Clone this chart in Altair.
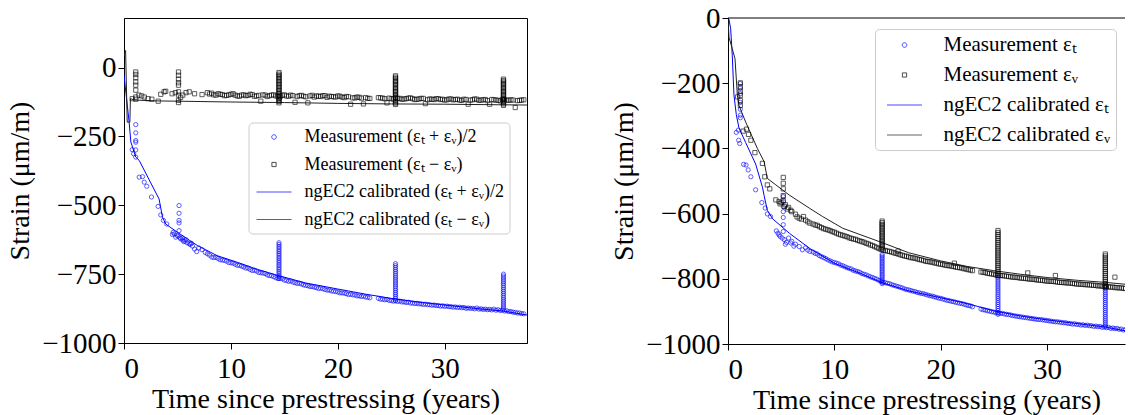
import altair as alt
import pandas as pd

# ---------------- shared dense time grids (years) ----------------
t_dense = [8.0, 8.4, 8.8, 9.2, 9.6, 10.0, 10.4, 10.8, 11.2, 11.6, 12.0, 12.4, 12.8, 13.2,
           13.6, 14.0, 14.4, 14.8, 15.2, 15.6, 16.0, 16.4, 16.8, 17.2, 17.6, 18.0, 18.4,
           18.8, 19.2, 19.6, 20.0, 20.4, 20.8, 21.2, 21.6, 22.0, 22.4, 22.8, 23.8, 24.2,
           24.6, 25.0, 25.4, 25.8, 26.2, 26.6, 27.0, 27.4, 27.8, 28.2, 28.6, 29.0, 29.4,
           29.8, 30.2, 30.6, 31.0, 31.4, 31.8, 32.2, 32.6, 33.0, 33.4, 33.8, 34.2, 34.6,
           35.0, 35.4, 35.8, 36.2, 36.6, 37.0, 37.4]
t_dense2 = [8.2, 8.6, 9.0, 9.4, 9.8, 10.2, 10.6, 11.0, 11.4, 11.8, 12.2, 12.6, 13.0, 13.4,
            13.8, 14.2, 14.6, 15.0, 15.4, 15.8, 16.2, 16.6, 17.0, 17.4, 17.8, 18.2, 18.6,
            19.0, 19.4, 19.8, 20.2, 20.6, 21.0, 21.4, 21.8, 22.2, 22.6, 23.0,
            24.0, 24.4, 24.8, 25.2, 25.6, 26.0, 26.4, 26.8, 27.2, 27.6, 28.0, 28.4, 28.8,
            29.2, 29.6, 30.0, 30.4, 30.8, 31.2, 31.6, 32.0, 32.4, 32.8, 33.2, 33.6, 34.0,
            34.4, 34.8, 35.2, 35.6, 36.0, 36.4, 36.8, 37.2]
spike_times = [14.5, 25.4, 35.5]

# ---------------- LEFT panel: (et+ev)/2 and (et-ev) ----------------
L_avg_dense = [-681, -690, -693, -699, -703, -709, -714, -718, -724, -728, -737, -739, -745, -748,
               -755, -759, -766, -767, -773, -775, -781, -783, -789, -792, -795, -799, -801,
               -806, -808, -812, -815, -818, -821, -823, -826, -829, -830, -834, -838, -841,
               -842, -846, -847, -848, -851, -852, -855, -856, -858, -859, -861, -862, -864,
               -865, -866, -868, -869, -870, -871, -873, -874, -873, -876, -877, -878, -877,
               -879, -881, -883, -886, -889, -891, -894]
L_avg_dense2 = [-688, -689, -698, -700, -708, -710, -718, -721, -728, -733, -736, -744, -746, -753,
                -756, -763, -765, -772, -776, -779, -784, -786, -791, -795, -797, -802, -803,
                -808, -811, -813, -818, -819, -824, -825, -829, -831, -833, -836,
                -841, -843, -845, -848, -849, -851, -853, -855, -857, -858, -860, -861, -863,
                -864, -866, -867, -868, -870, -871, -872, -874, -874, -876, -877, -878, -879,
                -880, -881, -882, -884, -886, -888, -891, -893]
L_avg_early_t = [0.77, 0.9, 1.1, 1.1, 1.1, 1.1, 1.1, 1.1, 1.42, 1.73, 1.89, 2.13, 2.57, 3.19,
                 3.44, 3.69, 4.0, 4.53, 4.6, 4.7, 4.84, 4.95, 5.05, 5.25, 5.3, 5.45, 5.5, 5.6,
                 5.7, 5.8, 5.9, 6.1, 6.2, 6.3, 6.4, 6.6, 6.8, 7.0, 7.3, 7.6, 7.8,
                 5.15, 5.15, 5.15, 5.15, 5.15]
L_avg_early_v = [-298, -313, -207, -237, -265, -271, -299, -325, -398, -396, -416, -431, -470, -504,
                 -535, -555, -568, -606, -598, -604, -616, -609, -612, -618, -622, -618, -626, -632,
                 -630, -625, -636, -640, -642, -638, -648, -659, -668, -655, -661, -671, -676,
                 -501, -529, -555, -564, -592]
L_avg_spikes = [
    [-636, -642, -649, -655, -662, -668, -675, -681, -688, -694, -701, -707, -714, -720, -727,
     -733, -740, -746, -753, -759, -766],
    [-712, -719, -726, -733, -740, -747, -754, -761, -768, -775, -782, -789, -796, -803, -810,
     -817, -824, -831, -838, -845],
    [-750, -757, -764, -771, -778, -785, -792, -799, -806, -813, -820, -827, -834, -841, -848,
     -855, -862, -869, -876],
]

L_dif_dense = [-96, -99, -95, -98, -101, -97, -100, -104, -99, -101, -98, -103, -122, -100,
               -102, -99, -104, -101, -103, -100, -126, -102, -104, -128, -101, -103, -105,
               -102, -104, -106, -103, -107, -105, -133, -110, -108, -132, -112, -109, -111,
               -128, -113, -110, -112, -114, -111, -113, -115, -112, -131, -114, -116, -113,
               -115, -117, -114, -116, -118, -115, -133, -117, -115, -118, -116, -133, -117,
               -119, -116, -118, -117, -145, -119, -117]
L_dif_dense2 = [-93, -100, -97, -102, -99, -95, -103, -100, -102, -97, -104, -101, -99, -105,
                -100, -103, -106, -99, -104, -102, -105, -101, -106, -103, -107, -104, -102,
                -108, -105, -107, -104, -109, -106, -110, -107, -111, -109, -112,
                -110, -113, -111, -114, -112, -115, -113, -110, -116, -114, -112, -117, -115,
                -113, -116, -118, -114, -117, -115, -119, -116, -118, -114, -119, -117, -120,
                -116, -118, -121, -117, -119, -118, -120, -118]
L_dif_early_t = [0.77, 1.1, 1.1, 1.1, 1.1, 1.1, 1.1, 1.1, 1.1, 1.4, 1.65, 1.9, 2.25, 2.6, 3.2,
                 3.44, 3.75, 3.9, 4.5, 4.8, 5.3, 5.5, 5.8, 6.1, 6.6, 7.3, 7.8,
                 5.1, 5.1, 5.1, 5.1, 5.1, 5.1, 5.1, 5.1, 5.1]
L_dif_early_v = [-113, -16, -25, -37, -52, -64, -82, -107, -115, -100, -103, -107, -113, -115, -122,
                 -97, -88, -86, -95, -91, -108, -100, -91, -88, -95, -98, -91,
                 -16, -28, -42, -55, -64, -88, -100, -119, -127]
L_dif_spikes = [
    [-18, -24, -29, -35, -40, -46, -51, -57, -62, -68, -73, -79, -84, -90, -95, -101, -106,
     -112, -117, -123, -128],
    [-30, -35, -40, -46, -51, -56, -61, -66, -72, -77, -82, -87, -92, -98, -103, -108, -113,
     -118, -124, -129, -134],
    [-42, -47, -52, -57, -62, -67, -72, -77, -82, -87, -92, -97, -102, -107, -112, -117, -122,
     -127, -132, -137],
]

L_avg_model_t = [0.0, 0.48, 0.64, 1.1, 1.42, 3.28, 3.6, 3.9, 5.0, 6.86, 8.72, 10.6, 12.5, 14.7,
                 17.0, 20.0, 22.5, 25.0, 27.5, 30.0, 33.0, 35.5, 37.8]
L_avg_model_v = [-28, -198, -270, -325, -337, -477, -543, -568, -598, -646, -683, -707, -733, -758,
                 -782, -804, -822, -838, -851, -862, -875, -884, -899]
L_dif_model_t = [0.0, 0.15, 0.3, 0.55, 0.6, 1.0, 3.0, 5.0, 10.0, 15.0, 20.0, 25.0, 30.0, 35.0, 37.8]
L_dif_model_v = [40, 62, -198, -198, -113, -118, -121, -122, -125, -127, -130, -132, -133, -135, -136]

# ---------------- RIGHT panel: et and ev ----------------
R_t_dense = [-718, -724, -732, -738, -745, -750, -754, -760, -766, -770, -776, -780, -786, -791,
             -796, -801, -808, -812, -815, -820, -824, -828, -833, -836, -839, -843, -846,
             -850, -853, -857, -860, -864, -867, -870, -873, -876, -880, -883, -893, -896,
             -899, -902, -905, -906, -909, -911, -914, -916, -918, -920, -922, -924, -925,
             -927, -929, -931, -932, -934, -935, -937, -938, -940, -941, -942, -944, -945,
             -946, -948, -949, -951, -952, -954, -956]
R_t_dense2 = [-722, -729, -735, -742, -748, -752, -758, -763, -768, -774, -778, -784, -788, -794,
              -799, -805, -811, -814, -818, -822, -826, -831, -834, -838, -842, -845, -848,
              -852, -855, -859, -862, -866, -869, -872, -875, -878, -882, -886,
              -895, -898, -901, -904, -906, -908, -910, -913, -915, -917, -919, -921, -923,
              -925, -926, -928, -930, -932, -933, -935, -937, -939, -940, -942, -943, -944,
              -946, -947, -949, -950, -952, -953, -955, -957]
R_t_early_t = [0.78, 0.97, 1.0, 1.1, 1.16, 1.16, 1.16, 1.16, 1.16, 1.16, 1.16, 1.47, 1.7, 1.9, 2.15,
               2.6, 3.18, 3.5, 3.7, 4.0, 4.55, 4.7, 4.8, 4.9, 5.1, 5.3, 5.4, 5.5, 5.7, 5.9, 6.0,
               6.2, 6.35, 6.7, 7.0, 7.3, 7.5, 7.7,
               5.2, 5.2, 5.2, 5.2, 5.2, 5.2, 5.2]
R_t_early_v = [-351, -344, -375, -385, -201, -216, -232, -259, -280, -298, -306, -449, -451, -466, -487,
               -527, -566, -583, -601, -609, -653, -660, -665, -670, -675, -680, -694, -688, -675, -690, -685,
               -700, -694, -701, -711, -705, -712, -716,
               -548, -563, -579, -594, -612, -634, -655]
R_t_spikes = [
    [-725, -730, -735, -740, -745, -750, -755, -760, -765, -770, -775, -780, -785, -790, -795,
     -800, -805, -810, -815],
    [-795, -801, -807, -813, -819, -825, -831, -837, -843, -849, -855, -861, -867, -873, -879,
     -885, -891, -897, -903, -909],
    [-825, -831, -837, -843, -849, -855, -861, -867, -873, -879, -885, -891, -897, -903, -909,
     -915, -921, -927, -933, -939, -945],
]

R_v_dense = [-632, -636, -643, -648, -652, -657, -663, -667, -671, -676, -679, -684, -688, -693,
             -698, -704, -710, -713, -716, -720, -724, -728, -731, -735, -737, -741, -744,
             -747, -749, -752, -755, -758, -760, -762, -765, -767, -770, -773, -779, -781,
             -784, -786, -789, -790, -792, -794, -795, -797, -798, -800, -801, -803, -804,
             -806, -807, -808, -810, -811, -812, -813, -815, -816, -817, -818, -819, -820,
             -821, -823, -824, -825, -827, -828, -830]
R_v_dense2 = [-635, -640, -646, -650, -655, -660, -665, -669, -674, -678, -682, -686, -691, -696,
              -701, -707, -712, -715, -718, -722, -726, -730, -733, -736, -739, -742, -746,
              -748, -751, -754, -756, -759, -761, -764, -766, -769, -772, -775,
              -780, -783, -785, -788, -790, -791, -793, -795, -796, -798, -799, -801, -802,
              -804, -805, -807, -808, -809, -811, -812, -813, -814, -816, -817, -818, -819,
              -820, -822, -823, -824, -826, -827, -828, -829]
R_v_early_t = [0.9, 1.16, 1.16, 1.16, 1.16, 1.16, 1.16, 1.43, 1.74, 1.93, 2.15, 2.53, 3.24, 3.46,
               3.7, 3.93, 4.5, 4.8, 4.9, 5.0, 5.3, 5.4, 5.6, 5.7, 5.9, 6.0, 6.35, 6.5, 6.7, 6.9,
               7.1, 7.3, 7.5, 7.7, 16.0, 21.3, 28.2, 30.8, 36.4,
               5.2, 5.2, 5.2, 5.2, 5.2]
R_v_early_v = [-242, -199, -211, -225, -237, -253, -268, -347, -341, -357, -375, -413, -446, -487,
               -512, -524, -558, -563, -570, -566, -578, -573, -586, -581, -590, -594, -602, -610, -614, -617,
               -609, -620, -625, -629, -715, -752, -782, -790, -795,
               -489, -507, -524, -545, -560]
R_v_spikes = [
    [-623, -628, -633, -638, -643, -648, -653, -658, -663, -668, -673, -678, -683, -688, -693,
     -698, -703, -708],
    [-652, -658, -664, -670, -676, -682, -688, -694, -700, -706, -712, -718, -724, -730, -736,
     -742, -748, -754, -760, -766, -772, -778, -784, -790],
    [-724, -730, -736, -742, -748, -754, -760, -766, -772, -778, -784, -790, -796, -802, -808,
     -814, -820, -826],
]

R_t_model_t = [0.0, 0.1, 0.25, 0.4, 0.56, 0.78, 1.03, 1.66, 2.6, 3.24, 3.4, 3.7, 4.2, 5.8, 7.7,
               10.0, 12.5, 14.5, 17.0, 20.0, 22.5, 25.0, 27.5, 30.0, 33.0, 35.5, 37.8]
R_t_model_v = [0, -5, -33, -114, -236, -296, -337, -382, -448, -519, -545, -590, -616, -661, -707,
               -752, -784, -812, -837, -858, -876, -898, -914, -926, -938, -948, -962]
R_v_model_t = [0.0, 0.1, 0.4, 0.66, 0.88, 1.03, 1.66, 2.76, 3.4, 3.7, 4.5, 5.76, 7.64, 8.9, 10.8,
               14.5, 17.0, 20.0, 22.5, 25.0, 27.5, 30.0, 33.0, 35.5, 37.8]
R_v_model_v = [-5, -60, -94, -125, -237, -268, -319, -400, -441, -492, -512, -543, -583, -609, -645,
               -689, -720, -745, -762, -775, -786, -796, -805, -811, -818]

L_labels = ["Measurement (εₜ + εᵥ)/2", "Measurement (εₜ − εᵥ)",
            "ngEC2 calibrated (εₜ + εᵥ)/2", "ngEC2 calibrated (εₜ − εᵥ)"]
R_labels = ["Measurement εₜ", "Measurement εᵥ",
            "ngEC2 calibrated εₜ", "ngEC2 calibrated εᵥ"]

BLUE = "#0000ff"
BLACK = "#000000"
LINE_BLACK = "#222222"
FONT = "Liberation Serif"


def series(dense, dense2, early_t, early_v, spikes):
    tt = t_dense + t_dense2 + early_t
    vv = dense + dense2 + early_v
    for st, sv in zip(spike_times, spikes):
        tt = tt + [st] * len(sv)
        vv = vv + sv
    return pd.DataFrame({"t": tt, "v": vv})


def curve(tlist, vlist):
    return pd.DataFrame({"t": tlist, "v": vlist})


def legend_paths(scale):
    c = 2.3 / scale
    s = 2.1 / scale
    h = 17.5 / scale
    circ = f"M{-c:.3f},0A{c:.3f},{c:.3f},0,1,0,{c:.3f},0A{c:.3f},{c:.3f},0,1,0,{-c:.3f},0Z"
    sq = f"M{-s:.3f},{-s:.3f}H{s:.3f}V{s:.3f}H{-s:.3f}Z"
    ln = f"M{-h:.3f},0H{h:.3f}"
    return [circ, sq, ln, ln]


def panel(labels, a_df, b_df, a_line, b_line, xdom, ydom, yvals, w, h,
          leg_x, leg_y, leg_font, leg_size, leg_rowpad, leg_symoff, leg_laboff, ytitle_pad, framed):
    xs = alt.Scale(domain=xdom, nice=False, zero=False)
    ys = alt.Scale(domain=ydom, nice=False, zero=False)
    xax = alt.Axis(values=[0, 10, 20, 30], format="d", title="Time since prestressing (years)",
                   labelPadding=5, titlePadding=2)
    yax = alt.Axis(values=yvals, format="d", title="Strain (μm/m)", titlePadding=ytitle_pad)
    X = alt.X("t:Q", scale=xs, axis=xax)
    Y = alt.Y("v:Q", scale=ys, axis=yax)

    a_pts = alt.Chart(a_df).mark_point(shape="circle", filled=False, color=BLUE, size=18,
                                       strokeWidth=0.9, clip=True).encode(x=X, y=Y)
    b_pts = alt.Chart(b_df).mark_point(shape="square", filled=False, color=BLACK, size=18,
                                       strokeWidth=0.9, clip=True).encode(x=X, y=Y)
    a_ln = alt.Chart(a_line).mark_line(color=BLUE, strokeWidth=1, clip=True).encode(x=X, y=Y)
    b_ln = alt.Chart(b_line).mark_line(color=LINE_BLACK, strokeWidth=1, clip=True).encode(x=X, y=Y)

    leg = alt.Legend(orient="none", legendX=leg_x, legendY=leg_y, labelFont=FONT,
                     labelFontSize=leg_font, labelColor="black", padding=5,
                     rowPadding=leg_rowpad, symbolOffset=leg_symoff, labelOffset=leg_laboff,
                     symbolSize=leg_size, symbolStrokeWidth=1, strokeColor="#cccccc",
                     fillColor="white", cornerRadius=4, labelLimit=600)
    leg_df = pd.DataFrame({"label": labels})
    legend_layer = alt.Chart(leg_df).transform_filter("false").mark_point(filled=False).encode(
        color=alt.Color("label:N", title=None,
                        scale=alt.Scale(domain=labels, range=[BLUE, BLACK, BLUE, LINE_BLACK]),
                        legend=leg),
        shape=alt.Shape("label:N", title=None,
                        scale=alt.Scale(domain=labels, range=legend_paths((leg_size ** 0.5) / 2)),
                        legend=leg),
    )
    layers = [a_ln, b_ln, a_pts, b_pts, legend_layer]
    if not framed:
        top = alt.Chart(leg_df.head(1)).mark_rule(color="black", strokeWidth=1).encode(
            x=alt.value(0), x2=alt.value(w), y=alt.value(0))
        layers.append(top)
    ch = alt.layer(*layers).properties(width=w, height=h)
    if not framed:
        ch = ch.properties(view=alt.ViewBackground(stroke="transparent"))
    return ch


L_a = series(L_avg_dense, L_avg_dense2, L_avg_early_t, L_avg_early_v, L_avg_spikes)
L_b = series(L_dif_dense, L_dif_dense2, L_dif_early_t, L_dif_early_v, L_dif_spikes)
R_a = series(R_t_dense, R_t_dense2, R_t_early_t, R_t_early_v, R_t_spikes)
R_b = series(R_v_dense, R_v_dense2, R_v_early_t, R_v_early_v, R_v_spikes)

left = panel(L_labels, L_a, L_b, curve(L_avg_model_t, L_avg_model_v), curve(L_dif_model_t, L_dif_model_v),
             [0, 37.7], [-1000, 180], [-1000, -750, -500, -250, 0], 403, 325,
             124.5, 104.5, 18, 324, 8.5, 11, 21, 7, True)
right = panel(R_labels, R_a, R_b, curve(R_t_model_t, R_t_model_v), curve(R_v_model_t, R_v_model_v),
              [0, 37.35], [-1000, 0], [-1000, -800, -600, -400, -200, 0], 397, 326,
              147, 11, 21, 441, 9, 13.5, 28, 7, False)

chart = alt.hconcat(left, right, spacing=201, bounds="flush").resolve_scale(
    color="independent", shape="independent"
).resolve_legend(color="independent", shape="independent").properties(
    padding={"left": 6, "top": 3, "right": 0, "bottom": 0}
).configure(font=FONT).configure_axis(
    labelFont=FONT, titleFont=FONT, labelFontSize=29, titleFontSize=28,
    titleFontWeight="normal", labelColor="black", titleColor="black",
    tickColor="black", domainColor="black", tickSize=6, grid=False, domainWidth=1, tickWidth=1
).configure_view(stroke="black", strokeWidth=1)

chart.save("out.html", embed_options={"renderer": "svg", "actions": False})
